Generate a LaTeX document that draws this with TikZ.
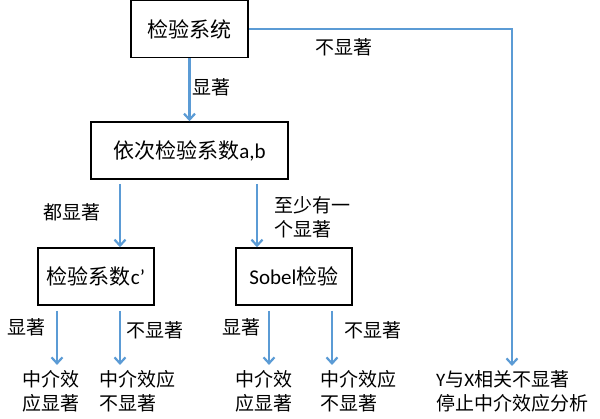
\documentclass[tikz,border=0pt]{standalone}
\usepackage{fontspec}
\setmainfont{Noto Sans CJK SC}
\newfontfamily\lat{Carlito}
\usetikzlibrary{arrows.meta}
\definecolor{lineblue}{HTML}{5B9BD5}

\begin{document}
\begin{tikzpicture}[x=1pt, y=-1pt,
  box/.style={draw=black, line width=1.5pt, minimum height=57pt, inner sep=0pt, font=\fontsize{21}{25}\selectfont},
  arr/.style={-{Straight Barb[length=6pt,width=11pt]}, line width=2.2pt, draw=lineblue},
  lbl/.style={inner sep=0pt, align=left, font=\fontsize{19}{24}\selectfont}]
\useasboundingbox (0,0) rectangle (600,418);
\node[box, minimum width=117pt] (sys) at (189.5,29) {检验系统};
\node[box, minimum width=197pt] (ab) at (189.5,150.5) {依次检验系数{\lat a,b}};
\node[box, minimum width=116pt] (cc) at (96,276.5) {检验系数{\lat c’}};
\node[box, minimum width=116pt] (sob) at (294,276.5) {{\lat Sobel}检验};
\node[lbl] (r1) at (51,391) {中介效\\应显著};
\node[lbl] (r2) at (137,391) {中介效应\\不显著};
\node[lbl] (r3) at (264,391) {中介效\\应显著};
\node[lbl] (r4) at (358,391) {中介效应\\不显著};
\node[lbl] (stop) at (512,391) {{\lat Y}与{\lat X}相关不显著\\停止中介效应分析};
\node[lbl] (l1) at (211,87) {显著};
\node[lbl] (l2) at (344,47) {不显著};
\node[lbl] (l3) at (72,212) {都显著};
\node[lbl, anchor=west] (l4) at (274,217) {至少有一\\个显著};
\node[lbl] (l5) at (26,327) {显著};
\node[lbl] (l6) at (155,330) {不显著};
\node[lbl] (l7) at (241,327) {显著};
\node[lbl] (l8) at (373,330) {不显著};
\path[arr] (sys) edge (ab);
\draw[arr, shorten >=4pt] (sys) -| (stop);
\draw[arr, shorten <=4pt] ([xshift=24pt]cc.north |- ab.south) -- ([xshift=24pt]cc.north);
\draw[arr, shorten <=4pt] ([xshift=-37pt]sob.north |- ab.south) -- ([xshift=-37pt]sob.north);
\draw[arr, shorten <=5pt, shorten >=5pt] ([xshift=-39pt]cc.south) -- ([xshift=-39pt]cc.south |- r1.north);
\draw[arr, shorten <=5pt, shorten >=5pt] ([xshift=24pt]cc.south) -- ([xshift=24pt]cc.south |- r2.north);
\draw[arr, shorten <=5pt, shorten >=5pt] ([xshift=-25pt]sob.south) -- ([xshift=-25pt]sob.south |- r3.north);
\draw[arr, shorten <=5pt, shorten >=5pt] ([xshift=38pt]sob.south) -- ([xshift=38pt]sob.south |- r4.north);
\end{tikzpicture}
\end{document}
